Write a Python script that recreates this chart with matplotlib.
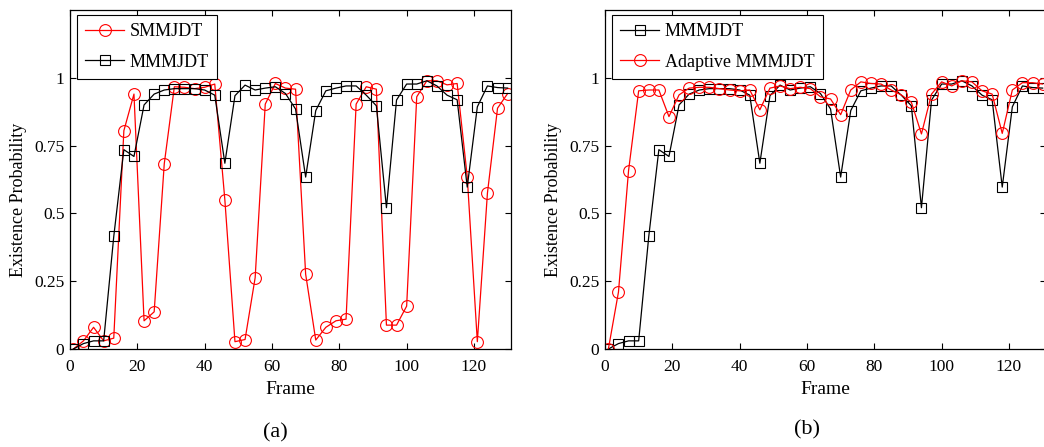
import numpy as np
import matplotlib
matplotlib.use("Agg")
import matplotlib.pyplot as plt

frames = list(range(1, 131, 3))  # sampled frames 1, 4, ..., 130

mmmjdt = [0.00, 0.02, 0.03, 0.03, 0.415, 0.735, 0.71, 0.90, 0.94, 0.955, 0.96,
          0.96, 0.96, 0.955, 0.936, 0.685, 0.934, 0.973, 0.955, 0.962, 0.967, 0.942,
          0.885, 0.634, 0.879, 0.952, 0.962, 0.97, 0.97, 0.936, 0.897, 0.521, 0.918,
          0.977, 0.977, 0.989, 0.97, 0.936, 0.919, 0.597, 0.893, 0.97, 0.964, 0.962]

smmjdt = [0.00, 0.03, 0.08, 0.03, 0.04, 0.805, 0.94, 0.104, 0.137, 0.683, 0.967,
          0.965, 0.96, 0.965, 0.977, 0.55, 0.027, 0.035, 0.263, 0.903, 0.979, 0.962,
          0.958, 0.276, 0.033, 0.08, 0.104, 0.11, 0.903, 0.967, 0.958, 0.088, 0.088,
          0.158, 0.93, 0.989, 0.989, 0.974, 0.979, 0.636, 0.027, 0.575, 0.888, 0.942]

adaptive = [0.00, 0.21, 0.658, 0.952, 0.955, 0.955, 0.857, 0.937, 0.962, 0.965, 0.965,
            0.96, 0.955, 0.952, 0.955, 0.882, 0.962, 0.97, 0.96, 0.965, 0.96, 0.93,
            0.922, 0.864, 0.955, 0.985, 0.979, 0.977, 0.955, 0.937, 0.91, 0.793, 0.94,
            0.985, 0.97, 0.989, 0.985, 0.952, 0.94, 0.795, 0.955, 0.982, 0.982, 0.977]

xticks = [0, 20, 40, 60, 80, 100, 120]
yticks = [0, 0.25, 0.5, 0.75, 1]
yticklabels = ["0", "0.25", "0.5", "0.75", "1"]

plt.rcParams['font.family'] = ['Liberation Serif', 'DejaVu Serif']

fig = plt.figure(figsize=(10.44, 4.47), dpi=100)
W, H = 1044, 447

def make_axes(left_px):
    ax = fig.add_axes([left_px / W, (H - 349) / H, 441 / W, 339 / H])
    ax.set_xlim(0, 131)
    ax.set_ylim(0, 1.25)
    ax.set_xticks(xticks)
    ax.set_yticks(yticks)
    ax.set_yticklabels(yticklabels)
    ax.tick_params(direction='in', top=True, right=True, length=4, width=0.8,
                   labelsize=12.5, color='black')
    ax.tick_params(axis='x', pad=7)
    ax.tick_params(axis='y', pad=4)
    for s in ax.spines.values():
        s.set_linewidth(0.9)
        s.set_color('black')
    ax.set_xlabel("Frame", fontsize=14)
    ax.xaxis.set_label_coords(0.5, -0.095)
    ax.set_ylabel("Existence Probability", fontsize=13)
    ax.yaxis.set_label_coords(-0.097, 0.44)
    return ax

line_kw = dict(lw=0.9, mfc='none', mew=0.8)

# (a) SMMJDT vs MMMJDT
ax1 = make_axes(70)
ax1.plot(frames, smmjdt, color='red', marker='o', ms=8.5, label='SMMJDT', **line_kw)
ax1.plot(frames, mmmjdt, color='black', marker='s', ms=7.5, label='MMMJDT', **line_kw)

# (b) MMMJDT vs Adaptive MMMJDT
ax2 = make_axes(605)
ax2.plot(frames, mmmjdt, color='black', marker='s', ms=7.5, label='MMMJDT', **line_kw)
ax2.plot(frames, adaptive, color='red', marker='o', ms=8.5, label='Adaptive MMMJDT', **line_kw)

for ax in (ax1, ax2):
    leg = ax.legend(loc='upper left', bbox_to_anchor=(0.015, 0.985), borderaxespad=0,
                    fontsize=13, fancybox=False, framealpha=1, edgecolor='black',
                    handlelength=2.2, handletextpad=0.3, labelspacing=0.75, borderpad=0.45)
    leg.get_frame().set_linewidth(0.8)

fig.text(275 / W, 1 - 433 / H, "(a)", fontsize=16, ha='center', va='center')
fig.text(807 / W, 1 - 430 / H, "(b)", fontsize=16, ha='center', va='center')

fig.savefig("out.png", dpi=100)
